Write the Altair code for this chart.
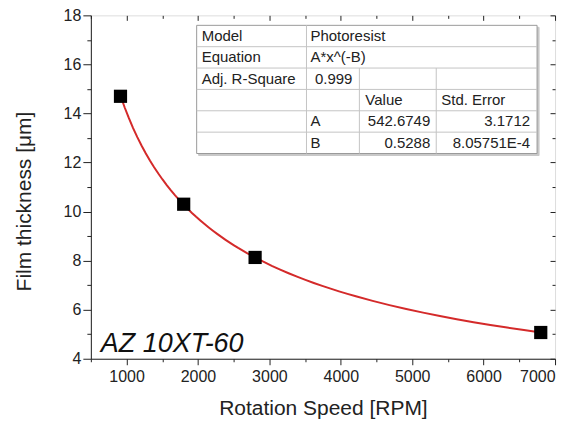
import altair as alt
import pandas as pd

# ---- data ----
rpm = [915, 1800, 2800, 6800]
thickness = [14.7, 10.3, 8.13, 5.07]

x_ticks = [500, 1000, 1500, 2000, 2500, 3000, 3500, 4000, 4500, 5000, 5500, 6000, 6500, 7000]
y_ticks = [4, 5, 6, 7, 8, 9, 10, 11, 12, 13, 14, 15, 16, 17, 18]

panel_label = "AZ 10XT-60"
x_title = "Rotation Speed [RPM]"
y_title = "Film thickness [\u03bcm]"

# fit-report table
row_labels = ["Model", "Equation", "Adj. R-Square"]
model_name = "Photoresist"
equation = "A*x^(-B)"
adj_r2 = "0.999"
col_headers = ["Value", "Std. Error"]
param_names = ["A", "B"]
param_values = ["542.6749", "0.5288"]
param_errors = ["3.1712", "8.05751E-4"]

FONT = "Liberation Sans"

df = pd.DataFrame({"rpm": rpm, "thick": thickness})

xscale = alt.Scale(domain=[500, 7000], nice=False, zero=False)
yscale = alt.Scale(domain=[4, 18], nice=False, zero=False)

x_major = "datum.value % 1000 === 0"
y_major = "datum.value % 2 === 0"

bottom_axis = alt.Axis(
    orient="bottom", values=x_ticks, format="d",
    labelExpr=f"{x_major} ? datum.label : ''",
    tickSize={"condition": {"test": x_major, "value": 6}, "value": 3},
    labelPadding=4, labelFontSize=16, labelFont=FONT, labelColor="#222",
    title=x_title, titleFont=FONT, titleFontSize=21, titleFontWeight="normal",
    titleColor="#222", titlePadding=13, grid=False,
    domainColor="#222", tickColor="#222",
)
left_axis = alt.Axis(
    orient="left", values=y_ticks, format="d",
    labelExpr=f"{y_major} ? datum.label : ''",
    tickSize={"condition": {"test": y_major, "value": 8}, "value": 4},
    labelPadding=2, labelFontSize=16, labelFont=FONT, labelColor="#222",
    title=y_title, titleFont=FONT, titleFontSize=21, titleFontWeight="normal",
    titleColor="#222", titlePadding=29, titleY=186, grid=False,
    domainColor="#222", tickColor="#222",
)
top_axis = alt.Axis(
    orient="top", values=x_ticks, labels=False, domain=False, grid=False,
    title=None, offset=-5, tickSize=5, tickColor="#222",
    tickDash={"condition": {"test": x_major, "value": [5, 0]}, "value": [0, 2, 3]},
)
right_axis = alt.Axis(
    orient="right", values=y_ticks, labels=False, domain=False, grid=False,
    title=None, offset=-5, tickSize=5, tickColor="#222",
    tickDash={"condition": {"test": y_major, "value": [5, 0]}, "value": [0, 2, 3]},
)

curve = alt.Chart(df).transform_regression(
    "rpm", "thick", method="pow"
).mark_line(color="#d42a2a", strokeWidth=2).encode(
    x=alt.X("rpm:Q", scale=xscale, axis=bottom_axis),
    y=alt.Y("thick:Q", scale=yscale, axis=left_axis),
)

points = alt.Chart(df).mark_point(
    shape="square", filled=True, size=175, color="black", opacity=1
).encode(
    x=alt.X("rpm:Q", scale=xscale, axis=top_axis),
    y=alt.Y("thick:Q", scale=yscale, axis=right_axis),
)

# ---- table geometry (pixels, relative to the plot area) ----
X0, X1, X2, X3, X4 = 106, 216, 269, 346, 447
Y0, RH = 10, 21.4
NR = 6
def ry(i):
    return Y0 + RH * (i + 0.5)

rects = pd.DataFrame({
    "x": [X0 + 2, X0], "x2": [X4 + 2, X4],
    "y": [Y0 + 2, Y0], "y2": [Y0 + RH * NR + 2, Y0 + RH * NR],
    "fill": ["#c8c8c8", "#ffffff"], "stroke": ["#c8c8c8", "#9a9a9a"],
})
rect_layer = alt.Chart(rects).mark_rect(strokeWidth=1).encode(
    x=alt.X("x:Q", scale=None, axis=None), x2="x2:Q",
    y=alt.Y("y:Q", scale=None, axis=None), y2="y2:Q",
    fill=alt.Fill("fill:N", scale=None),
    stroke=alt.Stroke("stroke:N", scale=None),
)

lines = []
for k in range(1, NR):
    lines.append({"x": X0, "x2": X4, "y": Y0 + RH * k, "y2": Y0 + RH * k})
lines.append({"x": X1, "x2": X1, "y": Y0, "y2": Y0 + RH * NR})
for xv in (X2, X3):
    lines.append({"x": xv, "x2": xv, "y": Y0 + RH * 2, "y2": Y0 + RH * NR})
rule_layer = alt.Chart(pd.DataFrame(lines)).mark_rule(
    color="#c4c4c4", strokeWidth=1
).encode(
    x=alt.X("x:Q", scale=None, axis=None), x2="x2:Q",
    y=alt.Y("y:Q", scale=None, axis=None), y2="y2:Q",
)

left_txt = []
for i, t in enumerate(row_labels):
    left_txt.append({"t": t, "px": X0 + 5, "py": ry(i)})
left_txt.append({"t": model_name, "px": X1 + 4, "py": ry(0)})
left_txt.append({"t": equation, "px": X1 + 4, "py": ry(1)})
left_txt.append({"t": col_headers[0], "px": X2 + 6, "py": ry(3)})
left_txt.append({"t": col_headers[1], "px": X3 + 5, "py": ry(3)})
for j, n in enumerate(param_names):
    left_txt.append({"t": n, "px": X1 + 4, "py": ry(4 + j)})

right_txt = [{"t": adj_r2, "px": X2 - 7, "py": ry(2)}]
for j in range(len(param_names)):
    right_txt.append({"t": param_values[j], "px": X3 - 6, "py": ry(4 + j)})
    right_txt.append({"t": param_errors[j], "px": X4 - 7, "py": ry(4 + j)})

def text_layer(rows, align):
    return alt.Chart(pd.DataFrame(rows)).mark_text(
        font=FONT, fontSize=15, align=align, baseline="middle", color="#222"
    ).encode(
        x=alt.X("px:Q", scale=None, axis=None),
        y=alt.Y("py:Q", scale=None, axis=None),
        text="t:N",
    )

label_layer = alt.Chart(pd.DataFrame({"label": [panel_label]})).mark_text(
    font=FONT, fontSize=27, fontStyle="italic", align="left",
    baseline="alphabetic", color="#111"
).encode(x=alt.value(10), y=alt.value(337), text="label:N")

chart = alt.layer(
    curve, points, rect_layer, rule_layer,
    text_layer(left_txt, "left"), text_layer(right_txt, "right"), label_layer,
).resolve_axis(
    x="independent", y="independent"
).properties(
    width=465, height=344,
    autosize=alt.AutoSizeParams(type="none"),
    padding={"left": 83, "top": 7, "right": 20, "bottom": 60},
).configure_view(
    stroke="#222", strokeWidth=1
).configure(
    background="white"
)

chart.save("out.html", embed_options={"renderer": "svg", "actions": False})
